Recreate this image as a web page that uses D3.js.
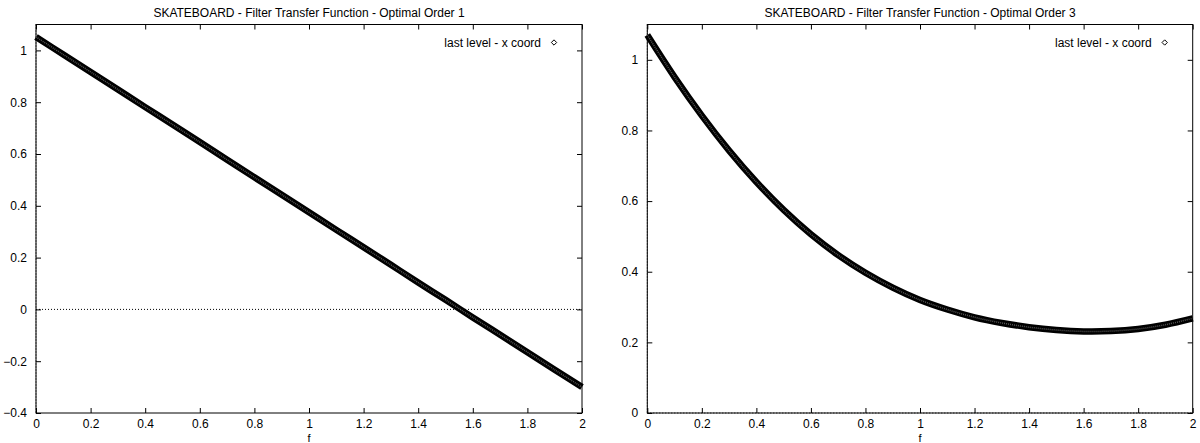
<!DOCTYPE html>
<html>
<head>
<meta charset="utf-8">
<title>Skateboard filter transfer function</title>
<style>
  * { margin: 0; padding: 0; }
  body { background: #fff; }
  svg { display: block; }
  text { font-family: "Liberation Sans", Arial, sans-serif; font-size: 12px; fill: #000; }
  .frame { fill: none; stroke: #000; stroke-width: 1; }
  .zero { stroke: #000; stroke-width: 1; stroke-dasharray: 1,2; }
  .tick line { stroke: #000; }
</style>
<script src="https://d3js.org/d3.v7.min.js"></script>
</head>
<body>
<svg width="1200" height="443"></svg>
<script>
// frequency samples (x axis)
const fValues = [0, 0.1, 0.2, 0.3, 0.4, 0.5, 0.6, 0.7, 0.8, 0.9, 1.0,
                 1.1, 1.2, 1.3, 1.4, 1.5, 1.6, 1.7, 1.8, 1.9, 2.0];
// order 1 : last level - x coord
const order1 = [1.052, 0.984, 0.917, 0.849, 0.781, 0.714, 0.646, 0.578, 0.510, 0.443, 0.375,
                0.307, 0.240, 0.172, 0.104, 0.037, -0.031, -0.098, -0.165, -0.233, -0.300];
// order 3 : last level - x coord
const order3 = [1.070, 0.951, 0.842, 0.743, 0.654, 0.575, 0.506, 0.447, 0.397, 0.355, 0.320,
                0.293, 0.271, 0.255, 0.243, 0.235, 0.231, 0.232, 0.238, 0.250, 0.268];

const xTicks = [0, 0.2, 0.4, 0.6, 0.8, 1, 1.2, 1.4, 1.6, 1.8, 2];
const yTicksLeft = [-0.4, -0.2, 0, 0.2, 0.4, 0.6, 0.8, 1];
const yTicksRight = [0, 0.2, 0.4, 0.6, 0.8, 1];

const titles = ["SKATEBOARD - Filter Transfer Function - Optimal Order 1",
                "SKATEBOARD - Filter Transfer Function - Optimal Order 3"];
const legendLabel = "last level - x coord";

const svg = d3.select("svg");

function panel(opt) {
  const x = d3.scaleLinear().domain([0, 2]).range([opt.x0, opt.x1]);
  const y = d3.scaleLinear().domain(opt.yDomain).range([413, 24.5]);
  const g = svg.append("g");
  const tl = 5;

  // bottom axis (ticks inward, labels below)
  g.append("g")
    .attr("transform", "translate(0,413)")
    .call(d3.axisBottom(x).tickValues(xTicks).tickSize(-tl).tickPadding(6)
      .tickFormat(d3.format("~g")))
    .call(a => a.select(".domain").remove());
  // top mirror ticks
  g.append("g")
    .attr("transform", "translate(0,24.5)")
    .call(d3.axisTop(x).tickValues(xTicks).tickSize(-tl).tickFormat(""))
    .call(a => a.select(".domain").remove());
  // left axis
  g.append("g")
    .attr("transform", `translate(${opt.x0},0)`)
    .call(d3.axisLeft(y).tickValues(opt.yTicks).tickSize(-tl).tickPadding(9)
      .tickFormat(d3.format("~g")))
    .call(a => a.select(".domain").remove());
  // right mirror ticks
  g.append("g")
    .attr("transform", `translate(${opt.x1},0)`)
    .call(d3.axisRight(y).tickValues(opt.yTicks).tickSize(-tl).tickFormat(""))
    .call(a => a.select(".domain").remove());

  g.selectAll(".tick text").style("font-size", "12px").style("font-family", "Liberation Sans, Arial, sans-serif");

  // frame
  g.append("rect").attr("class", "frame")
    .attr("x", opt.x0).attr("y", 24.5)
    .attr("width", opt.x1 - opt.x0).attr("height", 413 - 24.5);

  // zero axes (dotted)
  g.append("line").attr("class", "zero")
    .attr("x1", opt.x0).attr("x2", opt.x1).attr("y1", y(0)).attr("y2", y(0));
  g.append("line").attr("class", "zero")
    .attr("x1", x(0)).attr("x2", x(0)).attr("y1", 24.5).attr("y2", 413);

  // series drawn as dense diamond points -> thick band
  const pts = fValues.map((f, i) => [f, opt.v[i]]);
  const line = d3.line().curve(d3.curveCatmullRom).x(d => x(d[0])).y(d => y(d[1]));
  g.append("path").attr("d", line(pts))
    .attr("fill", "none").attr("stroke", "#000").attr("stroke-width", 6.5);
  g.append("path").attr("d", line(pts))
    .attr("fill", "none").attr("stroke", "#555").attr("stroke-width", 1.5)
    .attr("stroke-dasharray", "1,1");

  // title
  svg.append("text")
    .attr("x", (opt.x0 + opt.x1) / 2).attr("y", 17)
    .attr("text-anchor", "middle").text(opt.title);
  // x label
  svg.append("text")
    .attr("x", (opt.x0 + opt.x1) / 2).attr("y", 442)
    .attr("text-anchor", "middle").style("font-size", "11px").text("f");

  // legend
  svg.append("text")
    .attr("x", opt.x1 - 41).attr("y", 46.5)
    .attr("text-anchor", "end").text(legendLabel);
  svg.append("path")
    .attr("d", d3.symbol(d3.symbolDiamond2, 18)())
    .attr("transform", `translate(${opt.x1 - 28},42.5)`)
    .attr("fill", "#fff").attr("stroke", "#000").attr("stroke-width", 1);
}

panel({ x0: 36, x1: 582, yDomain: [-0.4, 1.1], yTicks: yTicksLeft,
        v: order1, title: titles[0] });
panel({ x0: 647.3, x1: 1192.7, yDomain: [0, 1.1], yTicks: yTicksRight,
        v: order3, title: titles[1] });
</script>
</body>
</html>
